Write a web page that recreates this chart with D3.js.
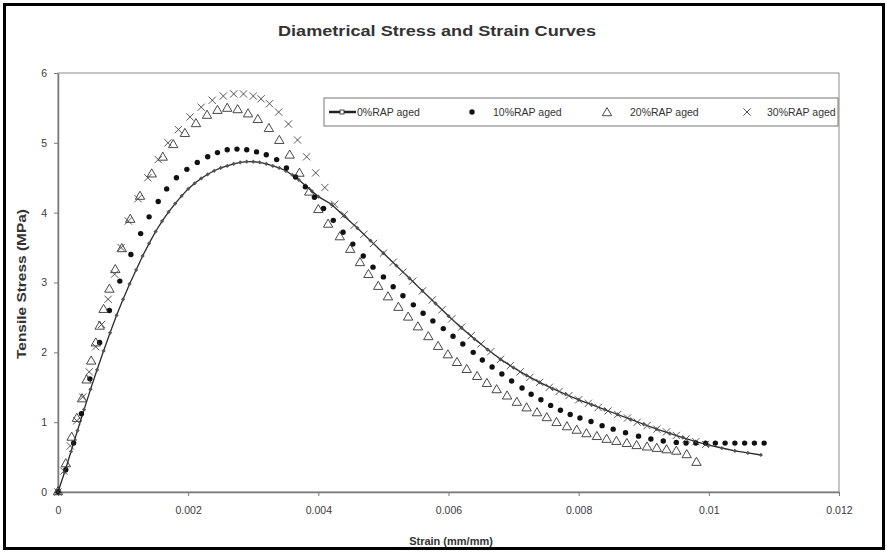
<!DOCTYPE html>
<html><head><meta charset="utf-8">
<script src="https://cdn.jsdelivr.net/npm/d3@7/dist/d3.min.js"></script>
<style>html,body{margin:0;padding:0;background:#fff;}svg{display:block;font-family:"Liberation Sans",Arial,sans-serif;}</style>
</head><body>
<svg id="chart" width="887" height="552"></svg>
<script>
const seriesNames = ["0%RAP aged","10%RAP aged","20%RAP aged","30%RAP aged"];
const xTicks = [0,0.002,0.004,0.006,0.008,0.01,0.012];
const xTickLabels = ["0","0.002","0.004","0.006","0.008","0.01","0.012"];
const yTicks = [0,1,2,3,4,5,6];

// 0%RAP aged : [strain, stress]
const rap0 = [[0,0],[0.0001,0.28],[0.0002,0.58],[0.0003,0.88],[0.0004,1.18],[0.0005,1.47],[0.0006,1.75],[0.0007,2.02],[0.0008,2.28],[0.0009,2.53],
[0.001,2.76],[0.0011,2.98],[0.0012,3.18],[0.0013,3.38],[0.0014,3.56],[0.0015,3.73],[0.0016,3.88],[0.0017,4.01],[0.0018,4.13],[0.0019,4.24],
[0.002,4.34],[0.0021,4.42],[0.0022,4.49],[0.0023,4.55],[0.0024,4.60],[0.0025,4.64],[0.0026,4.67],[0.0027,4.70],[0.0028,4.72],[0.0029,4.73],
[0.003,4.73],[0.0031,4.72],[0.0032,4.70],[0.0033,4.67],[0.0034,4.64],[0.0035,4.60],[0.0036,4.54],[0.0037,4.47],[0.0038,4.39],[0.0039,4.31],
[0.004,4.23],[0.0042,4.12],[0.0044,3.95],[0.0046,3.78],[0.0048,3.60],[0.005,3.42],[0.0052,3.24],[0.0054,3.06],[0.0056,2.88],[0.0058,2.70],
[0.006,2.52],[0.0062,2.35],[0.0064,2.19],[0.0066,2.04],[0.0068,1.90],[0.007,1.78],[0.0072,1.67],[0.0074,1.57],[0.0076,1.48],[0.0078,1.40],
[0.008,1.32],[0.0082,1.25],[0.0084,1.18],[0.0086,1.11],[0.0088,1.04],[0.009,0.97],[0.0092,0.90],[0.0094,0.84],[0.0096,0.78],[0.0098,0.72],
[0.01,0.67],[0.0102,0.63],[0.0104,0.59],[0.0106,0.56],[0.0108,0.53]];

// 10%RAP aged
const rap10 = [[0,0],[0.00012,0.32],[0.00024,0.70],[0.00036,1.12],[0.00049,1.62],[0.00064,2.14],[0.00079,2.60],[0.00095,3.02],[0.00112,3.40],[0.00127,3.70],
[0.0014,3.94],[0.00154,4.16],[0.00167,4.34],[0.00182,4.50],[0.00198,4.62],[0.00214,4.72],[0.0023,4.80],[0.00245,4.86],[0.0026,4.90],[0.00275,4.91],
[0.0029,4.90],[0.00305,4.87],[0.0032,4.83],[0.00336,4.76],[0.00351,4.64],[0.00365,4.51],[0.0038,4.37],[0.00394,4.22],[0.00408,4.06],[0.00423,3.89],
[0.00438,3.72],[0.00453,3.55],[0.00469,3.38],[0.00484,3.22],[0.005,3.08],[0.00515,2.94],[0.0053,2.81],[0.00546,2.68],[0.00561,2.56],[0.00576,2.45],
[0.00592,2.34],[0.00607,2.23],[0.00622,2.12],[0.00638,2.00],[0.00652,1.89],[0.00667,1.79],[0.00682,1.69],[0.00697,1.59],[0.00713,1.49],[0.00727,1.40],
[0.00742,1.32],[0.00757,1.24],[0.00772,1.17],[0.00787,1.11],[0.00802,1.06],[0.00819,1.01],[0.00836,0.95],[0.00853,0.90],[0.00872,0.85],[0.00892,0.80],
[0.00911,0.76],[0.0093,0.73],[0.0095,0.71],[0.00965,0.70],[0.0098,0.70],[0.00995,0.70],[0.0101,0.70],[0.01025,0.70],[0.0104,0.70],[0.01055,0.70],
[0.0107,0.70],[0.01085,0.70]];

// 20%RAP aged
const rap20 = [[0,0],[0.00012,0.40],[0.00021,0.78],[0.00029,1.05],[0.00037,1.33],[0.00044,1.60],[0.00051,1.87],[0.00058,2.13],[0.00064,2.37],[0.0007,2.61],
[0.00079,2.90],[0.00088,3.18],[0.00098,3.48],[0.00111,3.90],[0.00126,4.23],[0.00144,4.55],[0.00161,4.79],[0.00177,4.97],[0.00195,5.13],[0.00212,5.27],
[0.00229,5.39],[0.00245,5.46],[0.0026,5.49],[0.00276,5.47],[0.00292,5.41],[0.00307,5.33],[0.00324,5.20],[0.0034,5.03],[0.00356,4.82],[0.00371,4.56],
[0.00386,4.29],[0.004,4.04],[0.00415,3.83],[0.00433,3.65],[0.00449,3.47],[0.00464,3.28],[0.00477,3.11],[0.00492,2.94],[0.00507,2.79],[0.00523,2.64],
[0.00538,2.50],[0.00553,2.36],[0.00569,2.22],[0.00584,2.08],[0.00599,1.96],[0.00613,1.85],[0.00628,1.75],[0.00644,1.65],[0.00659,1.55],[0.00674,1.46],
[0.0069,1.37],[0.00705,1.28],[0.0072,1.20],[0.00736,1.13],[0.00751,1.06],[0.00766,0.99],[0.00782,0.93],[0.00797,0.88],[0.00812,0.83],[0.00828,0.79],
[0.00843,0.75],[0.00858,0.72],[0.00874,0.69],[0.00889,0.66],[0.00905,0.64],[0.0092,0.62],[0.00935,0.60],[0.0095,0.58],[0.00966,0.53],[0.00981,0.42]];

// 30%RAP aged
const rap30 = [[0,0],[0.00009,0.30],[0.00019,0.66],[0.00029,1.02],[0.00038,1.36],[0.00048,1.72],[0.00058,2.08],[0.00067,2.40],[0.00077,2.76],[0.00087,3.12],
[0.00097,3.50],[0.00108,3.88],[0.00123,4.20],[0.00138,4.50],[0.00154,4.76],[0.00169,5.00],[0.00185,5.19],[0.00203,5.37],[0.0022,5.51],[0.00237,5.61],
[0.00254,5.67],[0.0027,5.70],[0.00285,5.70],[0.003,5.67],[0.00312,5.63],[0.00325,5.56],[0.00339,5.44],[0.00354,5.27],[0.00368,5.04],[0.00382,4.80],
[0.00396,4.57],[0.0041,4.36],[0.00425,4.12],[0.0044,3.97],[0.00455,3.82],[0.0047,3.69],[0.00485,3.56],[0.005,3.42],[0.00515,3.29],[0.0053,3.15],
[0.00545,3.02],[0.0056,2.88],[0.00575,2.75],[0.0059,2.61],[0.00605,2.48],[0.0062,2.36],[0.00635,2.24],[0.0065,2.12],[0.00665,2.01],[0.0068,1.90],
[0.00695,1.81],[0.0071,1.72],[0.00725,1.64],[0.0074,1.57],[0.00755,1.50],[0.0077,1.44],[0.00785,1.38],[0.008,1.32],[0.00815,1.27],[0.0083,1.21],
[0.00845,1.16],[0.0086,1.11],[0.00875,1.06],[0.0089,1.00],[0.00905,0.95],[0.0092,0.90],[0.00935,0.86],[0.0095,0.81],[0.00965,0.76],[0.0098,0.72],
[0.00995,0.68]];

const svg = d3.select("#chart");
const W = 887, H = 552;
const m = {left:58, right:839, top:73, bottom:492};
const x = d3.scaleLinear().domain([0,0.012]).range([m.left, m.right]);
const y = d3.scaleLinear().domain([0,6]).range([m.bottom, m.top]);

svg.append("rect").attr("x",0).attr("y",0).attr("width",W).attr("height",H).attr("fill","#fff");
svg.append("rect").attr("x",4.5).attr("y",4.5).attr("width",879).attr("height",544)
  .attr("fill","none").attr("stroke","#000").attr("stroke-width",3);

// plot frame
svg.append("rect").attr("x",m.left).attr("y",m.top).attr("width",m.right-m.left).attr("height",m.bottom-m.top)
  .attr("fill","#fff").attr("stroke","#8c8c8c").attr("stroke-width",1);

const axisColor = "#7a7a7a";
const gx = svg.append("g").attr("transform",`translate(0,${m.bottom})`)
  .call(d3.axisBottom(x).tickValues(xTicks).tickFormat((d,i)=>xTickLabels[i]).tickSize(4).tickPadding(11).tickSizeOuter(0));
const gy = svg.append("g").attr("transform",`translate(${m.left},0)`)
  .call(d3.axisLeft(y).tickValues(yTicks).tickFormat(d3.format("d")).tickSize(4).tickPadding(7).tickSizeOuter(0));
[gx,gy].forEach(g=>{
  g.selectAll("path.domain").attr("stroke",axisColor).attr("stroke-width",1.5);
  g.selectAll(".tick line").attr("stroke",axisColor);
  g.selectAll(".tick text").attr("fill","#3a3a3a").attr("font-size","10.5px").attr("font-family","Liberation Sans, Arial, sans-serif");
});

// series
const line = d3.line().x(d=>x(d[0])).y(d=>y(d[1]));
const plot = svg.append("g");
plot.append("path").datum(rap0).attr("d",line).attr("fill","none").attr("stroke","#2a2a2a").attr("stroke-width",1.3);
plot.selectAll("rect.m0").data(rap0).join("rect").attr("class","m0")
  .attr("x",d=>x(d[0])-1.5).attr("y",d=>y(d[1])-1.5).attr("width",3).attr("height",3)
  .attr("fill","#555").attr("transform",d=>`rotate(45,${x(d[0])},${y(d[1])})`);

plot.selectAll("circle.m10").data(rap10).join("circle").attr("class","m10")
  .attr("cx",d=>x(d[0])).attr("cy",d=>y(d[1])).attr("r",2.7).attr("fill","#111");

const tri = d3.symbol().type(d3.symbolTriangle).size(38);
plot.selectAll("path.m20").data(rap20).join("path").attr("class","m20")
  .attr("d",tri).attr("transform",d=>`translate(${x(d[0])},${y(d[1])})`)
  .attr("fill","none").attr("stroke","#333").attr("stroke-width",0.9);

const cross = d3.symbol().type(d3.symbolX).size(36);
plot.selectAll("path.m30").data(rap30).join("path").attr("class","m30")
  .attr("d",cross).attr("transform",d=>`translate(${x(d[0])},${y(d[1])})`)
  .attr("fill","none").attr("stroke","#444").attr("stroke-width",0.9);

// title & axis labels
svg.append("text").attr("x",437).attr("y",36).attr("text-anchor","middle")
  .attr("font-size","14px").attr("font-weight","bold").attr("fill","#333")
  .attr("textLength",318).attr("lengthAdjust","spacingAndGlyphs")
  .text("Diametrical Stress and Strain Curves");
svg.append("text").attr("x",451).attr("y",545).attr("text-anchor","middle")
  .attr("font-size","11px").attr("font-weight","bold").attr("fill","#333")
  .text("Strain (mm/mm)");
svg.append("text").attr("transform","translate(26,284) rotate(-90)").attr("text-anchor","middle")
  .attr("font-size","12px").attr("font-weight","bold").attr("fill","#333")
  .attr("textLength",150).attr("lengthAdjust","spacingAndGlyphs")
  .text("Tensile Stress (MPa)");

// legend
const lg = svg.append("g");
lg.append("rect").attr("x",324).attr("y",98).attr("width",514).attr("height",28)
  .attr("fill","#fff").attr("stroke","#777").attr("stroke-width",1);
const ly = 112;
lg.append("line").attr("x1",329).attr("x2",356).attr("y1",ly).attr("y2",ly).attr("stroke","#222").attr("stroke-width",2.5);
lg.append("rect").attr("x",340).attr("y",ly-2).attr("width",4).attr("height",4).attr("fill","#fff").attr("stroke","#222").attr("stroke-width",0.8);
lg.append("circle").attr("cx",472).attr("cy",ly).attr("r",2.7).attr("fill","#111");
lg.append("path").attr("d",tri).attr("transform",`translate(607,${ly+1})`).attr("fill","none").attr("stroke","#333").attr("stroke-width",0.9);
lg.append("path").attr("d",cross).attr("transform",`translate(747,${ly})`).attr("fill","none").attr("stroke","#444").attr("stroke-width",0.9);
const lx = [357,493,630,767];
seriesNames.forEach((n,i)=>{
  lg.append("text").attr("x",lx[i]).attr("y",ly+4).attr("font-size","10.5px").attr("fill","#333").text(n);
});
</script>
</body></html>
